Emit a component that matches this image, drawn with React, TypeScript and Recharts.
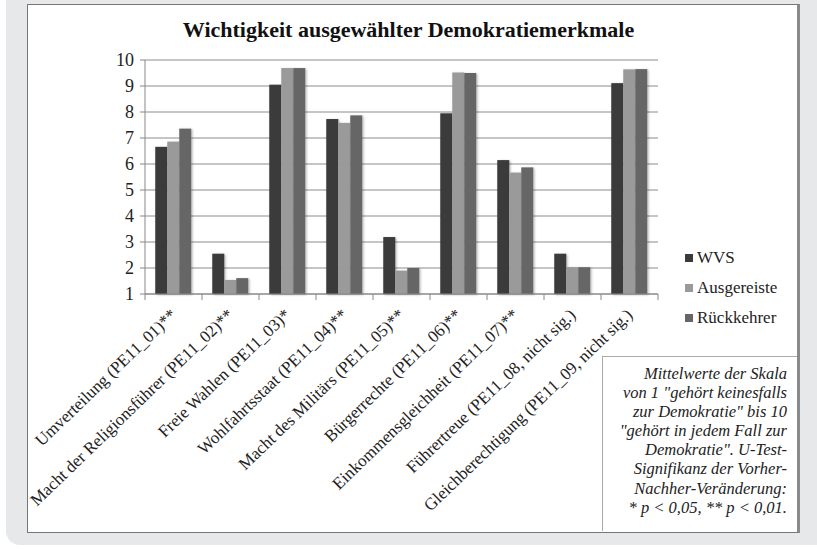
import React from 'react';
import { BarChart, Bar, XAxis, YAxis, CartesianGrid, Legend } from 'recharts';

// Mittelwerte je Merkmal (Skala 1-10)
const categories = [
  'Umverteilung (PE11_01)**',
  'Macht der Religionsführer (PE11_02)**',
  'Freie Wahlen (PE11_03)*',
  'Wohlfahrtsstaat (PE11_04)**',
  'Macht des Militärs (PE11_05)**',
  'Bürgerrechte (PE11_06)**',
  'Einkommensgleichheit (PE11_07)**',
  'Führertreue (PE11_08, nicht sig.)',
  'Gleichberechtigung (PE11_09, nicht sig.)',
];
const seriesNames = ['WVS', 'Ausgereiste', 'Rückkehrer'];
const wvs = [6.66, 2.55, 9.05, 7.73, 3.19, 7.95, 6.15, 2.55, 9.11];
const ausgereiste = [6.86, 1.54, 9.69, 7.58, 1.9, 9.52, 5.67, 2.03, 9.64];
const rueckkehrer = [7.36, 1.61, 9.69, 7.87, 2.0, 9.5, 5.87, 2.03, 9.65];
const yTicks = [1, 2, 3, 4, 5, 6, 7, 8, 9, 10];

const noteLines = [
  'Mittelwerte der Skala',
  'von 1 "gehört keinesfalls',
  'zur Demokratie" bis 10',
  '"gehört in jedem Fall zur',
  'Demokratie". U-Test-',
  'Signifikanz der Vorher-',
  'Nachher-Veränderung:',
  '* p < 0,05, ** p < 0,01.',
];

const data = categories.map((name, i) => ({
  name,
  WVS: wvs[i],
  Ausgereiste: ausgereiste[i],
  Rückkehrer: rueckkehrer[i],
}));

const FONT = 'Liberation Serif';

const CategoryTick = (props: any) => {
  const { x, y, payload } = props;
  const half = 28.5;
  return (
    <g>
      <line x1={x - half} y1={y - 8} x2={x - half} y2={y - 2} stroke="#888" />
      {payload.index === categories.length - 1 && (
        <line x1={x + half} y1={y - 8} x2={x + half} y2={y - 2} stroke="#888" />
      )}
      <text
        x={x + 4}
        y={y + 14}
        textAnchor="end"
        transform={`rotate(-44, ${x + 4}, ${y + 14})`}
        fontFamily={FONT}
        fontSize={17}
        fill="#222"
      >
        {payload.value}
      </text>
    </g>
  );
};

// Balken mit leichtem Schatten wie im Original
const ShadowBar = (props: any) => {
  const { x, y, width, height, fill } = props;
  if (!height || height <= 0) return null;
  return <rect x={x} y={y} width={width} height={height} fill={fill} filter="url(#barShadow)" />;
};

const LegendContent = (props: any) => {
  const items = seriesNames.map((n) => props.payload.find((p: any) => p.value === n)).filter(Boolean);
  return (
    <div style={{ fontFamily: FONT, fontSize: 17, color: '#222' }}>
      {items.map((p: any) => (
        <div key={p.value} style={{ display: 'flex', alignItems: 'center', height: 30 }}>
          <span style={{ width: 8, height: 8, background: p.color, marginRight: 4, display: 'inline-block' }} />
          {p.value}
        </div>
      ))}
    </div>
  );
};

export default function App() {
  return (
    <div style={{ position: 'absolute', left: 0, top: 0, width: 817, height: 549, background: '#fff', overflow: 'hidden' }}>
      <div style={{ position: 'absolute', left: 6, top: -20, width: 840, height: 565, background: '#e7e8ea', borderRadius: 14 }} />
      <div
        style={{
          position: 'absolute',
          left: 27,
          top: 4,
          width: 773,
          height: 529,
          background: '#fff',
          border: '1px solid #777',
          borderRight: '3px solid #8a8a8a',
          boxSizing: 'border-box',
        }}
      />
      <div
        style={{
          position: 'absolute',
          left: 0,
          width: 817,
          top: 17,
          textAlign: 'center',
          fontFamily: FONT,
          fontWeight: 'bold',
          fontSize: 22,
          color: '#111',
        }}
      >
        Wichtigkeit ausgewählter Demokratiemerkmale
      </div>
      <div style={{ position: 'absolute', left: 0, top: 0 }}>
        <BarChart
          width={817}
          height={549}
          data={data}
          margin={{ top: 60, right: 159, left: 105, bottom: 55 }}
          barCategoryGap="18%"
          barGap={0}
        >
          <defs>
            <filter id="barShadow" x="-20%" y="-5%" width="150%" height="115%">
              <feDropShadow dx="1.2" dy="0.8" stdDeviation="0.8" floodColor="#000" floodOpacity="0.3" />
            </filter>
          </defs>
          <CartesianGrid vertical={false} stroke="#8c8c8c" />
          <XAxis
            dataKey="name"
            interval={0}
            height={200}
            tickLine={false}
            axisLine={{ stroke: '#888' }}
            tick={<CategoryTick />}
          />
          <YAxis
            domain={[1, 10]}
            ticks={yTicks}
            width={40}
            interval={0}
            tickSize={5}
            tickMargin={6}
            axisLine={{ stroke: '#888' }}
            tickLine={{ stroke: '#888' }}
            tick={{ fontFamily: FONT, fontSize: 18, fill: '#222' }}
          />
          <Legend
            layout="horizontal"
            verticalAlign="middle"
            align="center"
            content={<LegendContent />}
            wrapperStyle={{ left: 685, top: 243, width: 120 }}
          />
          <Bar dataKey="WVS" fill="#3a3a3a" shape={<ShadowBar />} isAnimationActive={false} />
          <Bar dataKey="Ausgereiste" fill="#9a9a9a" shape={<ShadowBar />} isAnimationActive={false} />
          <Bar dataKey="Rückkehrer" fill="#666666" shape={<ShadowBar />} isAnimationActive={false} />
        </BarChart>
      </div>
      <div
        style={{
          position: 'absolute',
          left: 602,
          top: 356,
          width: 195,
          height: 175,
          borderTop: '1px solid #aaa',
          borderLeft: '1px solid #aaa',
          boxSizing: 'border-box',
          padding: '7px 10px 0 0',
          textAlign: 'right',
          fontFamily: FONT,
          fontStyle: 'italic',
          fontSize: 16.5,
          lineHeight: '19.1px',
          color: '#222',
        }}
      >
        {noteLines.map((l) => (
          <div key={l}>{l}</div>
        ))}
      </div>
    </div>
  );
}
